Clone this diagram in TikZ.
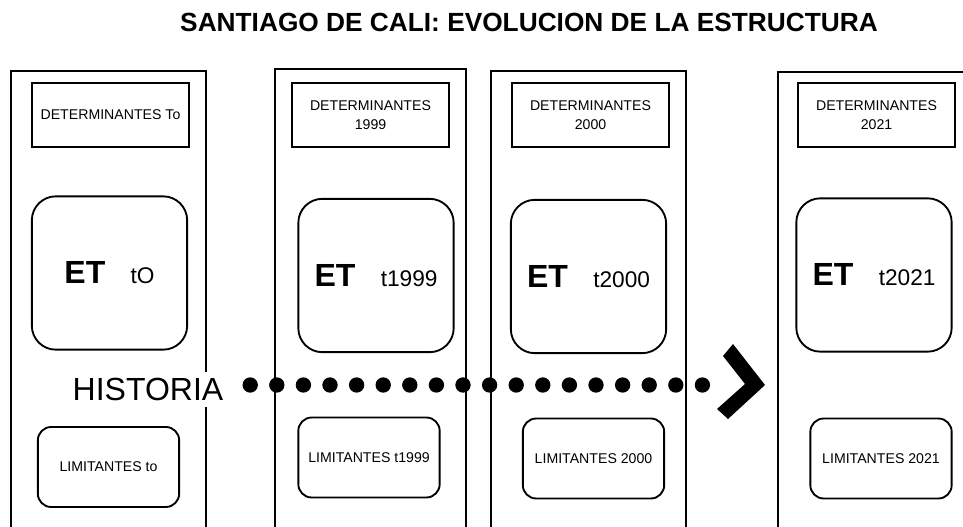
\documentclass[tikz,border=0pt]{standalone}
\usepackage{fontspec}
\setmainfont{Liberation Sans}
\usetikzlibrary{positioning}

\tikzset{
  panel/.style = {draw, line width=1.4pt, minimum width=#1, minimum height=367.5pt, inner sep=0pt},
  detbox/.style = {draw, line width=1.4pt, minimum width=117.5pt, minimum height=48pt, align=center,
    font=\fontsize{10.6}{14.2}\selectfont},
  etbox/.style = {draw, line width=1.4pt, rounded corners=18pt, minimum width=116.5pt, minimum height=115pt},
  limbox/.style = {draw, line width=1.4pt, rounded corners=10pt, minimum width=106pt, minimum height=60pt,
    font=\fontsize{10.6}{14.2}\selectfont},
  puntos/.style = {line width=11.5pt, line cap=round, dash pattern=on 0pt off 19.95pt}
}
\newcommand{\etlabel}[1]{{\fontsize{24}{28}\selectfont\bfseries ET}\hspace{19pt}{\fontsize{17}{20}\selectfont #1}}

\begin{document}
\begin{tikzpicture}[x=0.75pt, y=-0.75pt]
\useasboundingbox (0,0) rectangle (963,527);
\clip (0,0) rectangle (963,527);

\node[font=\fontsize{19.7}{24}\selectfont\bfseries] (titulo) at (529,22) {SANTIAGO DE CALI: EVOLUCION DE LA ESTRUCTURA};

% columnas
\node[panel=146.25pt] (col1) at (108.5,316) {};
\node[panel=143.25pt] (col2) at (370.5,314) {};
\node[panel=146.25pt] (col3) at (588.5,316) {};
\node[panel=166.5pt]  (col4) at (889,317) {};

% determinantes
\node[detbox] (det1) at (110.5,115) {DETERMINANTES To};
\node[detbox] (det2) at (370.5,115) {DETERMINANTES\\1999};
\node[detbox] (det3) at (590.5,115) {DETERMINANTES\\2000};
\node[detbox] (det4) at (876.5,115) {DETERMINANTES\\2021};

% estructura
\node[etbox] (et1) at (109.5,273) {\etlabel{tO}};
\node[etbox] (et2) at (376,275.5) {\etlabel{t1999}};
\node[etbox] (et3) at (588.5,276.5) {\etlabel{t2000}};
\node[etbox] (et4) at (874,275) {\etlabel{t2021}};

% limitantes
\node[limbox] (lim1) at (108.5,467) {LIMITANTES to};
\node[limbox] (lim2) at (369,457.5) {LIMITANTES t1999};
\node[limbox] (lim3) at (593.5,458.5) {LIMITANTES 2000};
\node[limbox] (lim4) at (881,458.5) {LIMITANTES 2021};

% historia
\node[fill=white, inner sep=5pt, font=\fontsize{24}{28}\selectfont] (hist) at (148,389.5) {HISTORIA};
\coordinate (tip) at (765,385);
\coordinate (fin) at (708,385);
\draw[puntos, shorten <=15pt] (hist.east |- tip) -- (fin);
\fill (tip) -- ++(-37,34) -- ++(-11,-10) -- ++(28,-25) -- ++(-22,-28) -- ++(10,-12) -- cycle;
\end{tikzpicture}
\end{document}
